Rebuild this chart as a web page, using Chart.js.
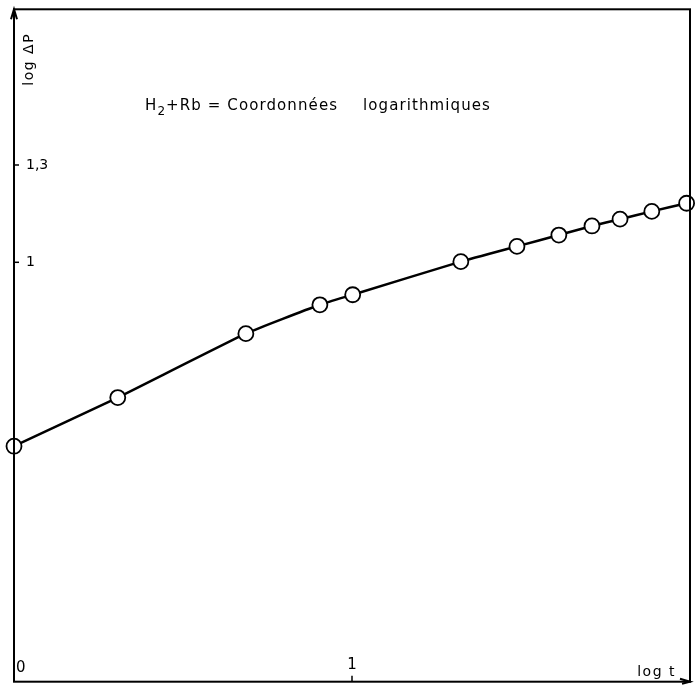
<!DOCTYPE html>
<html>
<head>
<meta charset="utf-8">
<script src="https://cdn.jsdelivr.net/npm/chart.js@4.4.1/dist/chart.umd.min.js"></script>
<style>
  html, body { margin: 0; padding: 0; background: #fff; }
  #wrap { width: 700px; height: 691px; }
</style>
</head>
<body>
<div id="wrap"><canvas id="chart" width="700" height="691"></canvas></div>
<script>
// ====== Data (log t, log ΔP)
const logT = [0, 0.307, 0.686, 0.905, 1.002, 1.322, 1.488, 1.612, 1.710, 1.793, 1.887, 1.99];
const logDP = [0.433, 0.583, 0.780, 0.869, 0.900, 1.002, 1.049, 1.084, 1.112, 1.133, 1.157, 1.182];
const xTicks = [{ v: 0, t: "0" }, { v: 1, t: "1" }];
const yTicks = [{ v: 1, t: "1" }, { v: 1.3, t: "1,3" }];

const FONT = "'DejaVu Sans', 'Liberation Sans', sans-serif";

// ====== Plugin cadre, graduations et textes
const framePlugin = {
  id: "framePlugin",
  afterDraw: (chart) => {
    const { ctx, chartArea: a, scales } = chart;
    ctx.save();
    ctx.strokeStyle = "#000";
    ctx.fillStyle = "#000";
    ctx.lineWidth = 2;
    ctx.strokeRect(a.left, a.top, a.right - a.left, a.bottom - a.top);

    // flèche axe Y
    ctx.beginPath();
    ctx.moveTo(a.left - 3, a.top + 10);
    ctx.lineTo(a.left, a.top);
    ctx.lineTo(a.left + 3, a.top + 10);
    ctx.stroke();
    // flèche axe X
    ctx.beginPath();
    ctx.moveTo(a.right - 10, a.bottom - 3);
    ctx.lineTo(a.right, a.bottom);
    ctx.lineTo(a.right - 8, a.bottom + 2);
    ctx.stroke();

    ctx.lineWidth = 1.5;
    ctx.font = "14px " + FONT;
    ctx.textBaseline = "middle";

    yTicks.forEach(({ v, t }) => {
      const y = scales.y.getPixelForValue(v);
      ctx.beginPath();
      ctx.moveTo(a.left, y);
      ctx.lineTo(a.left + 5, y);
      ctx.stroke();
      ctx.textAlign = "left";
      ctx.fillText(t, a.left + 12, y);
    });

    xTicks.forEach(({ v, t }) => {
      const x = scales.x.getPixelForValue(v);
      if (v !== 0) {
        ctx.beginPath();
        ctx.moveTo(x, a.bottom);
        ctx.lineTo(x, a.bottom - 6);
        ctx.stroke();
        ctx.textAlign = "center";
        ctx.font = "15px " + FONT;
        ctx.fillText(t, x, a.bottom - 17);
      } else {
        ctx.textAlign = "left";
        ctx.font = "15px " + FONT;
        ctx.fillText(t, x + 2, a.bottom - 14);
      }
    });

    // titres des axes
    ctx.font = "14px " + FONT;
    ctx.letterSpacing = "1.5px";
    ctx.textAlign = "right";
    ctx.fillText("log t", a.right - 14, a.bottom - 9);

    ctx.save();
    ctx.translate(a.left + 15, a.top + 50);
    ctx.rotate(-Math.PI / 2);
    ctx.textAlign = "center";
    ctx.fillText("log ΔP", 0, 0);
    ctx.restore();

    // titre
    ctx.font = "15px " + FONT;
    ctx.letterSpacing = "1.1px";
    ctx.textAlign = "left";
    ctx.textBaseline = "alphabetic";
    let x = 145;
    const base = 110;
    ctx.fillText("H", x, base);
    x += ctx.measureText("H").width;
    ctx.font = "12px " + FONT;
    ctx.fillText("2", x, base + 5);
    x += ctx.measureText("2").width;
    ctx.font = "15px " + FONT;
    ctx.fillText("+Rb = Coordonnées", x, base);
    ctx.fillText("logarithmiques", 363, base);
    ctx.restore();
  },
};

const ctx = document.getElementById("chart").getContext("2d");
new Chart(ctx, {
  type: "scatter",
  data: {
    datasets: [{
      data: logT.map((v, i) => ({ x: v, y: logDP[i] })),
      showLine: true,
      borderColor: "#000",
      borderWidth: 2.5,
      tension: 0.15,
      pointRadius: 7.5,
      pointBackgroundColor: "#fff",
      pointBorderColor: "#000",
      pointBorderWidth: 1.8,
      clip: false,
    }],
  },
  options: {
    responsive: false,
    animation: false,
    layout: { padding: { left: 14, top: 6, right: 10, bottom: 3 } },
    plugins: { legend: { display: false }, tooltip: { enabled: false } },
    scales: {
      x: { type: "linear", min: 0, max: 2, display: false },
      y: { type: "linear", min: -0.293, max: 1.78, display: false },
    },
  },
  plugins: [framePlugin],
});
</script>
</body>
</html>
